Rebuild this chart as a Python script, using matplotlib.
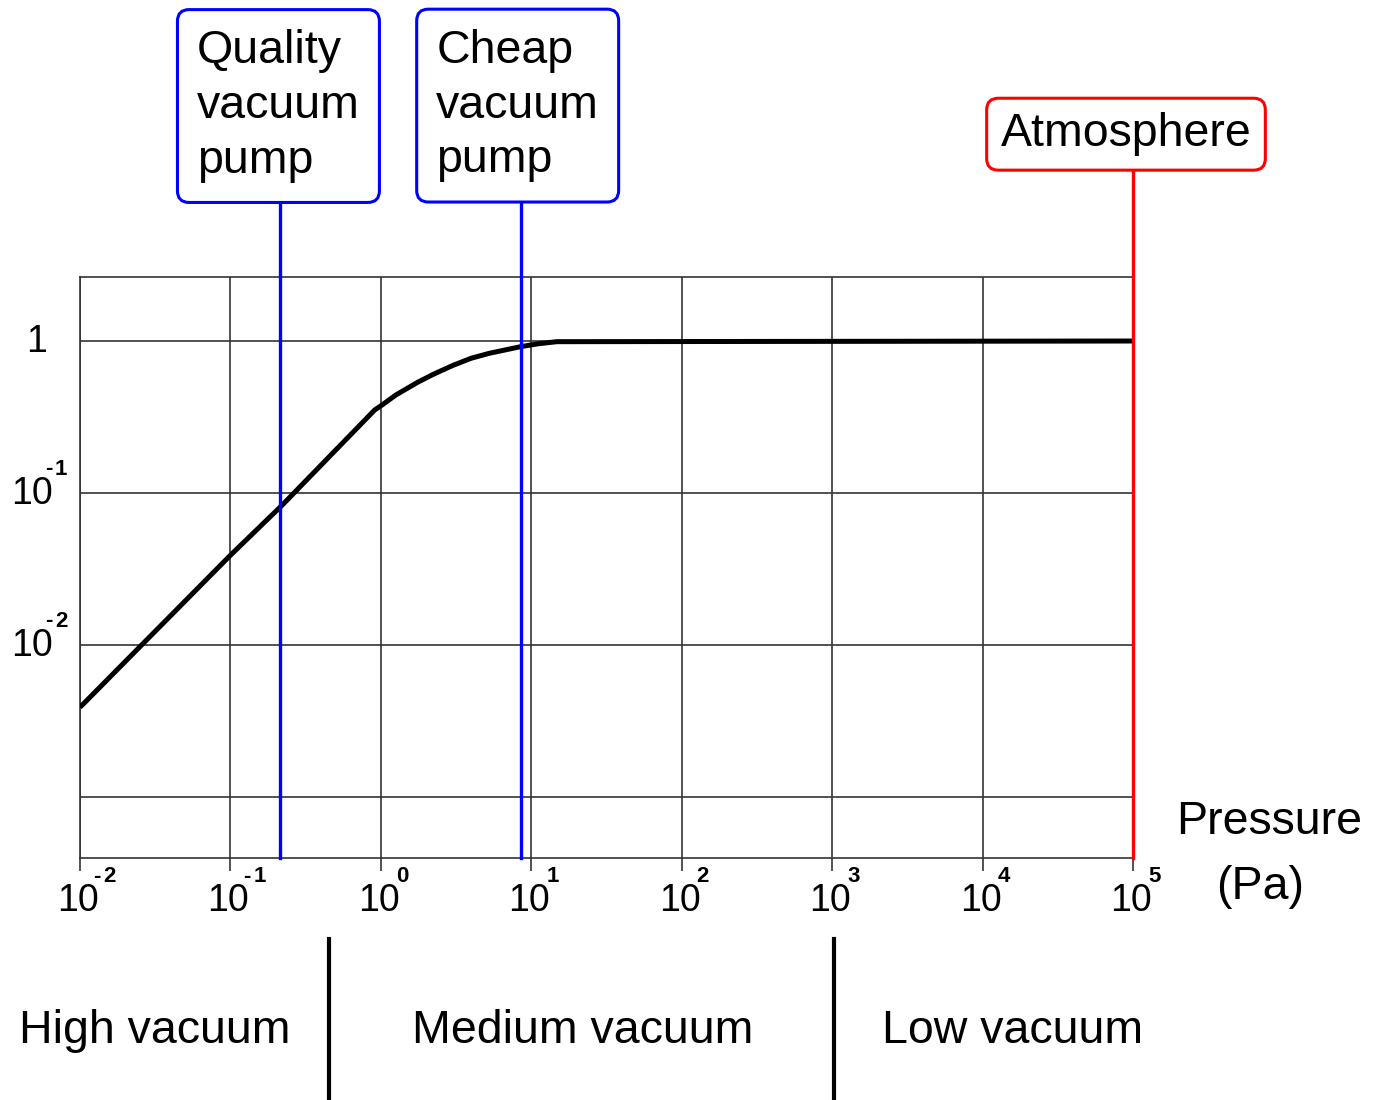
import numpy as np
import matplotlib
matplotlib.use("Agg")
import matplotlib.pyplot as plt
from matplotlib import transforms

plt.rcParams['font.family'] = ['Liberation Sans', 'DejaVu Sans']


# pressure (Pa) vs. relative response
pressure = [0.01, 0.1, 0.22, 0.91, 1.02, 1.26, 1.76, 2.24, 3.0, 3.98, 5.25, 8.5, 11.2, 14.8, 1e5]
response = [0.0039, 0.039, 0.083, 0.352, 0.38, 0.442, 0.536, 0.605, 0.69, 0.77, 0.83, 0.918, 0.96, 0.99, 1.0]

x_ticks = [1e-2, 1e-1, 1e0, 1e1, 1e2, 1e3, 1e4, 1e5]
x_exps = [-2, -1, 0, 1, 2, 3, 4, 5]
y_ticks = [1e-2, 1e-1]
y_exps = [-2, -1]
y_grid = [1e-3, 1e-2, 1e-1, 1]

# marker lines with their boxed captions (x, text, colour, box centre y, pad, x shift px)
markers = [
    (0.215, 'Quality\nvacuum\npump', 'blue', 0.9036, 0.42, -2),
    (8.5, 'Cheap\nvacuum\npump', 'blue', 0.9040, 0.42, -3),
    (1e5, 'Atmosphere', 'red', 0.8780, 0.3, -7),
]

# vacuum regions below the axis
region_names = ['High vacuum', 'Medium vacuum', 'Low vacuum']
region_centres = [0.112, 0.422, 0.734]
region_bounds = [0.45, 1.03e3]

narrow = ['Liberation Sans Narrow', 'Liberation Sans']
PT = 0.72  # points per pixel at 100 dpi


def power_label(xy, coords, base_off, exp_off, e, ha):
    """'10' with a small bold exponent; the sign sits a little apart from the digit."""
    ax.annotate('10', xy=xy, xycoords=coords, xytext=(base_off[0] * PT, base_off[1] * PT),
                textcoords='offset points', ha=ha, va='center', fontsize=27, family=narrow)
    ex, ey = exp_off
    if e < 0:
        ax.annotate('-', xy=xy, xycoords=coords, xytext=(ex * PT, (ey + 1) * PT),
                    textcoords='offset points', ha='left', va='center',
                    fontsize=16, fontweight='bold')
        ex += 10
    ax.annotate(str(abs(e)), xy=xy, xycoords=coords, xytext=(ex * PT, ey * PT),
                textcoords='offset points', ha='left', va='center',
                fontsize=16, fontweight='bold')


fig = plt.figure(figsize=(13.8, 11), dpi=100)
ax = fig.add_axes([80 / 1380, 242 / 1100, 1053 / 1380, 581 / 1100])
ax.set_xscale('log')
ax.set_yscale('log')
ax.set_xlim(1e-2, 1e5)
ax.set_ylim(10 ** -3.40, 10 ** 0.421)

ax.set_xticks(x_ticks)
ax.set_xticklabels([])
ax.set_yticks([])
ax.minorticks_off()
ax.tick_params(axis='x', length=9, width=1.2, color='#333333')

for xv in x_ticks:
    ax.axvline(xv, color='#333333', lw=1.2, zorder=1)
for yv in y_grid:
    ax.axhline(yv, color='#333333', lw=1.2, zorder=1)
for s in ax.spines.values():
    s.set_color('#333333')
    s.set_linewidth(1.2)

# power-of-ten tick labels
for xv, e in zip(x_ticks, x_exps):
    power_label((xv, 0), ('data', 'axes fraction'), (-2, -43), (13 if e < 0 else 15, -19), e, 'center')

for yv, e in zip(y_ticks, y_exps):
    power_label((0, yv), ('axes fraction', 'data'), (-27, -1), (-35, 24), e, 'right')
ax.annotate('1', xy=(0, 1), xycoords=('axes fraction', 'data'),
            xytext=(-33 * PT, -1 * PT), textcoords='offset points',
            ha='right', va='center', fontsize=27, family=narrow)

ax.plot(pressure, response, color='black', lw=3.6, zorder=3, solid_capstyle='butt')

fig_y = transforms.blended_transform_factory(ax.transData, fig.transFigure)
axis_bottom = 242 / 1100

for xv, label, colour, ybox, pad, shift in markers:
    ax.plot([xv, xv], [axis_bottom, ybox], color=colour, lw=2.4, transform=fig_y,
            clip_on=False, zorder=4)
    ax.annotate(label, xy=(xv, ybox), xycoords=fig_y, xytext=(shift * PT, 0),
                textcoords='offset points', ha='center', va='center', multialignment='left',
                fontsize=33.5, linespacing=1.32, zorder=5, annotation_clip=False,
                bbox=dict(boxstyle='round,pad=%s,rounding_size=0.25' % pad, fc='white',
                          ec=colour, lw=2.2))

for xb in region_bounds:
    ax.plot([xb, xb], [0, 0.146], color='black', lw=3, transform=fig_y, clip_on=False)

for name, xc in zip(region_names, region_centres):
    fig.text(xc, 0.0625, name, ha='center', va='center', fontsize=33.5)

fig.text(0.920, 0.253, 'Pressure', ha='center', va='center', fontsize=33.5)
fig.text(0.913, 0.194, '(Pa)', ha='center', va='center', fontsize=33.5)

fig.savefig('out.png', dpi=100, facecolor='white')
